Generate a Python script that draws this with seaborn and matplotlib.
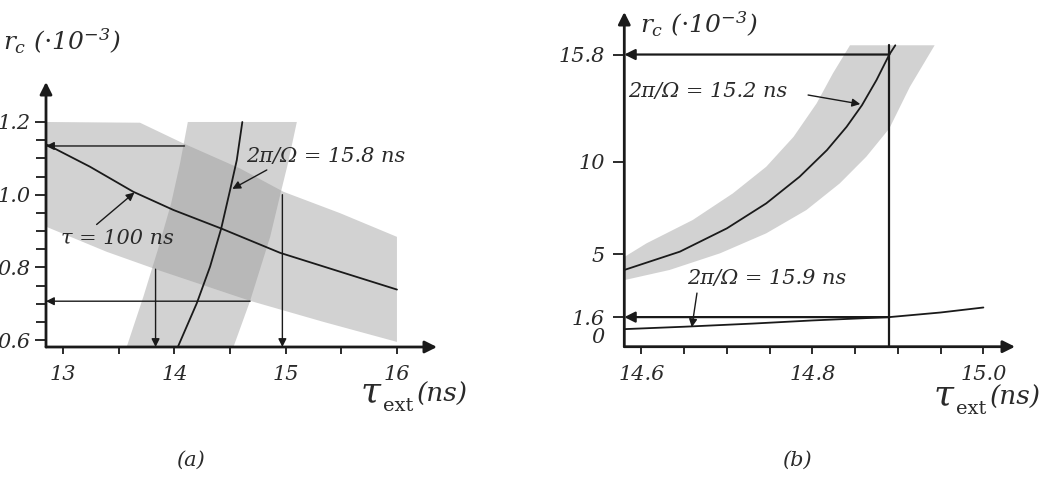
import numpy as np
import pandas as pd
import matplotlib
matplotlib.use("Agg")
import matplotlib.pyplot as plt
from matplotlib.ticker import FixedLocator
import seaborn as sns

sns.set_theme(style="white")
plt.rcParams['font.family'] = ['DejaVu Serif']
plt.rcParams['font.style'] = 'italic'
plt.rcParams['mathtext.fontset'] = 'dejavuserif'

# ---------------- data: panel (a) ----------------
a_tau100_x = [12.845, 12.865, 13.24, 13.63, 13.99, 14.42, 14.95, 15.49, 16.0]
a_tau100_y = [1.138, 1.136, 1.077, 1.008, 0.958, 0.907, 0.840, 0.788, 0.739]
a_band1_upper_x = [12.845, 13.69, 14.08, 14.59, 14.98, 15.49, 16.0]
a_band1_upper_y = [1.2, 1.198, 1.141, 1.072, 1.008, 0.949, 0.884]
a_band1_lower_x = [12.845, 13.39, 13.84, 14.68, 15.34, 16.0]
a_band1_lower_y = [0.912, 0.843, 0.794, 0.708, 0.650, 0.595]
a_band2_left_x = [13.57, 13.72, 13.85, 13.97, 14.05, 14.12]
a_band2_left_y = [0.581, 0.719, 0.848, 0.976, 1.086, 1.2]
a_band2_right_x = [14.53, 14.68, 14.86, 14.95, 15.02, 15.10]
a_band2_right_y = [0.581, 0.708, 0.884, 0.999, 1.086, 1.2]
a_omega_x = [14.03, 14.20, 14.32, 14.42, 14.50, 14.56, 14.61]
a_omega_y = [0.581, 0.701, 0.802, 0.907, 1.013, 1.095, 1.2]
a_harrow_y = [1.134, 0.707]
a_harrow_from = [14.09, 14.68]
a_varrow_x = [13.83, 14.97]
a_varrow_from = [0.795, 1.0]
a_xticks = [13, 14, 15, 16]
a_xminor = [13.5, 14.5, 15.5]
a_yticks = [0.6, 0.8, 1.0, 1.2]
a_xlim = (12.845, 16.36)
a_ylim = (0.581, 1.31)

# ---------------- data: panel (b) ----------------
b_band_upper_x = [14.58, 14.606, 14.66, 14.707, 14.746, 14.778, 14.805, 14.824, 14.844]
b_band_upper_y = [4.85, 5.59, 6.85, 8.29, 9.73, 11.35, 13.16, 14.78, 16.3]
b_band_lower_x = [14.58, 14.633, 14.692, 14.746, 14.793, 14.832, 14.863, 14.890, 14.914, 14.943]
b_band_lower_y = [3.6, 4.15, 5.05, 6.13, 7.39, 8.83, 10.27, 11.8, 14.05, 16.3]
b_omega152_x = [14.58, 14.645, 14.700, 14.746, 14.785, 14.817, 14.840, 14.858, 14.875, 14.89, 14.897]
b_omega152_y = [4.15, 5.14, 6.40, 7.75, 9.19, 10.63, 11.89, 13.06, 14.42, 15.8, 16.3]
b_omega159_x = [14.58, 14.65, 14.73, 14.80, 14.89, 14.95, 15.0]
b_omega159_y = [0.95, 1.08, 1.25, 1.42, 1.6, 1.85, 2.12]
b_harrow_y = [15.8, 1.6]
b_vline_x = 14.89
b_vline_top = 16.3
b_xticks = [14.6, 14.8, 15.0]
b_xticklabels = ["14.6", "14.8", "15.0"]
b_xminor = [14.65, 14.7, 14.75, 14.85, 14.9, 14.95]
b_yticks = [0, 1.6, 5, 10, 15.8]
b_yticklabels = ["0", "1.6", "5", "10", "15.8"]
b_xlim = (14.58, 15.037)
b_ylim = (0, 18.1)

W, H = 1056, 495
fig = plt.figure(figsize=(W / 100, H / 100), dpi=100)
TXT = '#2a2a2a'


def fpos(x, y):
    return (x / W, 1 - y / H)


def axes_px(x0, y0, x1, y1):
    return fig.add_axes([x0 / W, (H - y1) / H, (x1 - x0) / W, (y1 - y0) / H])


axA = axes_px(46, 82, 437, 347)
axB = axes_px(624.3, 12, 1015, 346.7)

band_col = (0.58, 0.58, 0.58, 0.42)


def arrow(ax, start, end, lw=1.0, ms=14, coords='data'):
    ax.annotate("", xy=end, xytext=start, xycoords=coords, textcoords=coords,
                arrowprops=dict(arrowstyle='-|>', lw=lw, color='k',
                                mutation_scale=ms, shrinkA=0, shrinkB=0),
                annotation_clip=False)


def style_axes(ax):
    for s in ax.spines.values():
        s.set_visible(False)
    ax.set_facecolor('none')
    arrow(ax, (0, 0), (1, 0), lw=2.0, ms=18, coords='axes fraction')
    arrow(ax, (0, 0), (0, 1), lw=2.0, ms=18, coords='axes fraction')
    ax.tick_params(axis='both', which='both', direction='out', color='k',
                   width=1.3, labelsize=15, labelcolor=TXT)
    ax.tick_params(axis='x', which='major', length=5, pad=8)
    ax.tick_params(axis='x', which='minor', length=5)
    ax.tick_params(axis='y', which='major', length=8, pad=3)
    ax.tick_params(axis='y', which='minor', length=7)
    ax.xaxis.set_ticks_position('bottom')
    ax.yaxis.set_ticks_position('left')
    ax.set_xlabel("")
    ax.set_ylabel("")


# ---------------- panel (a) ----------------
axA.fill(a_band1_upper_x + a_band1_lower_x[::-1], a_band1_upper_y + a_band1_lower_y[::-1],
         color=band_col, lw=0)
axA.fill(a_band2_left_x + a_band2_right_x[::-1], a_band2_left_y + a_band2_right_y[::-1],
         color=band_col, lw=0)

sns.lineplot(x=a_tau100_x, y=a_tau100_y, ax=axA, color='k', lw=1.3, sort=False, estimator=None)
sns.lineplot(x=a_omega_x, y=a_omega_y, ax=axA, color='k', lw=1.3, sort=False, estimator=None)

for yv, xs in zip(a_harrow_y, a_harrow_from):
    arrow(axA, (xs, yv), (a_xlim[0], yv), lw=1.0, ms=12)
for xv, ys in zip(a_varrow_x, a_varrow_from):
    arrow(axA, (xv, ys), (xv, a_ylim[0]), lw=1.0, ms=12)

arrow(axA, (14.83, 1.068), (14.52, 1.016), lw=1.0, ms=12)
arrow(axA, (13.30, 0.918), (13.64, 1.006), lw=1.0, ms=12)

axA.set_xlim(*a_xlim)
axA.set_ylim(*a_ylim)
style_axes(axA)
axA.xaxis.set_major_locator(FixedLocator(a_xticks))
axA.xaxis.set_minor_locator(FixedLocator(a_xminor))
axA.yaxis.set_major_locator(FixedLocator(a_yticks))
axA.yaxis.set_minor_locator(FixedLocator(list(np.round(np.arange(0.65, 1.2, 0.05), 2))))
axA.set_xticklabels([str(t) for t in a_xticks])
axA.set_yticklabels([f"{t:.1f}" for t in a_yticks])

fig.text(*fpos(246, 157), "2π/Ω = 15.8 ns", fontsize=15, va='center', ha='left', color=TXT)
fig.text(*fpos(61, 238), "τ = 100 ns", fontsize=15, va='center', ha='left', color=TXT)

# ---------------- panel (b) ----------------
axB.fill(b_band_upper_x + b_band_lower_x[::-1], b_band_upper_y + b_band_lower_y[::-1],
         color=band_col, lw=0)

sns.lineplot(x=b_omega152_x, y=b_omega152_y, ax=axB, color='k', lw=1.3, sort=False, estimator=None)
sns.lineplot(x=b_omega159_x, y=b_omega159_y, ax=axB, color='k', lw=1.3, sort=False, estimator=None)

axB.plot([b_vline_x, b_vline_x], [0, b_vline_top], color='k', lw=1.6)
for yv in b_harrow_y:
    arrow(axB, (b_vline_x, yv), (b_xlim[0], yv), lw=1.6, ms=16)

arrow(axB, (14.795, 13.61), (14.856, 13.12), lw=1.0, ms=12)
arrow(axB, (14.665, 2.9), (14.659, 1.05), lw=1.0, ms=12)

axB.set_xlim(*b_xlim)
axB.set_ylim(*b_ylim)
style_axes(axB)
axB.xaxis.set_major_locator(FixedLocator(b_xticks))
axB.xaxis.set_minor_locator(FixedLocator(b_xminor))
axB.yaxis.set_major_locator(FixedLocator(b_yticks))
axB.set_xticklabels(b_xticklabels)
axB.set_yticklabels(b_yticklabels)
axB.tick_params(axis='y', which='major', pad=6)
axB.get_yticklabels()[0].set_va('bottom')
axB.yaxis.get_major_ticks()[0].tick1line.set_visible(False)

fig.text(*fpos(628, 91.7), "2π/Ω = 15.2 ns", fontsize=15, va='center', ha='left', color=TXT)
fig.text(*fpos(686.7, 278.3), "2π/Ω = 15.9 ns", fontsize=15, va='center', ha='left', color=TXT)

# ---------------- axis labels ----------------
for (x0, yb) in [(3, 50), (640, 33)]:
    fig.text(*fpos(x0, yb), r"$r_c\ \mathit{(\cdot 10^{-3})}$", fontsize=18,
             va='baseline', ha='left', color=TXT)

for (xt, yb) in [(360, 402), (933, 405)]:
    fig.text(*fpos(xt, yb), r"$\tau$", fontsize=26, va='baseline', ha='left', color=TXT)
    fig.text(*fpos(xt + 23, yb + 9), "ext", fontsize=14, style='normal', va='baseline',
             ha='left', color=TXT)
    fig.text(*fpos(xt + 57, yb), "(ns)", fontsize=19, va='baseline', ha='left', color=TXT)

fig.text(*fpos(190, 460), "(a)", fontsize=15, va='center', ha='center', color=TXT)
fig.text(*fpos(797, 460), "(b)", fontsize=15, va='center', ha='center', color=TXT)

fig.savefig("out.png", dpi=100)
